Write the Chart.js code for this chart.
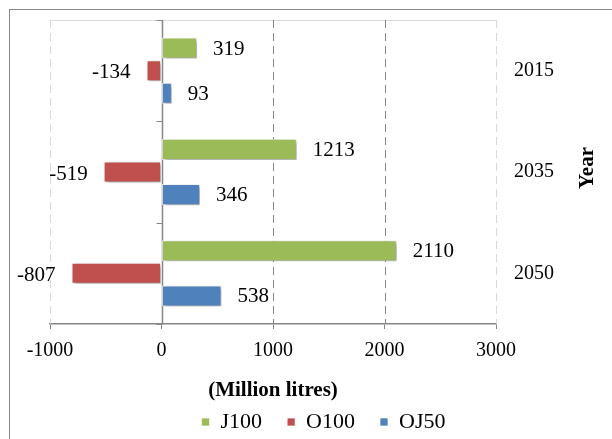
<!DOCTYPE html>
<html>
<head>
<meta charset="utf-8">
<script src="https://cdn.jsdelivr.net/npm/chart.js@4/dist/chart.umd.min.js"></script>
<style>
  html, body { margin: 0; padding: 0; background: #fff; }
  #wrap { width: 612px; height: 439px; position: relative; }
</style>
</head>
<body>
<div id="wrap"><canvas id="chart" width="612" height="439"></canvas></div>
<script>
const years = ['2015', '2035', '2050'];
const seriesNames = ['J100', 'O100', 'OJ50'];
const j100 = [319, 1213, 2110];
const o100 = [-134, -519, -807];
const oj50 = [93, 346, 538];
const xMin = -1000;
const xMax = 3000;
const xStep = 1000;

const SERIF = '"Liberation Serif", "Times New Roman", serif';
const GREEN = '#9bbb59';
const RED = '#c0504d';
const BLUE = '#4f81bd';
const AXIS_GRAY = '#868686';
const LIGHT_GRAY = '#d9d9d9';

// frame, gridlines, zero line, labels and the rotated "Year" title
const decor = {
  id: 'decor',
  beforeDraw(chart) {
    const ctx = chart.ctx;
    ctx.save();
    ctx.strokeStyle = AXIS_GRAY;
    ctx.lineWidth = 1;
    ctx.strokeRect(9.5, 9.5, chart.width + 20, chart.height + 20);
    ctx.restore();
  },
  beforeDatasetsDraw(chart) {
    const { ctx, chartArea: a, scales: { x, y } } = chart;
    ctx.save();
    ctx.lineWidth = 1;
    // top edge of the plot
    ctx.strokeStyle = LIGHT_GRAY;
    ctx.beginPath();
    ctx.moveTo(a.left, a.top + 0.5);
    ctx.lineTo(a.right, a.top + 0.5);
    ctx.stroke();

    x.ticks.forEach(t => {
      if (t.value === 0) return;
      const px = Math.round(x.getPixelForValue(t.value)) + 0.5;
      const edge = t.value === xMin || t.value === xMax;
      ctx.strokeStyle = edge ? LIGHT_GRAY : AXIS_GRAY;
      ctx.setLineDash([8, 5]);
      ctx.beginPath();
      ctx.moveTo(px, a.top);
      ctx.lineTo(px, a.bottom);
      ctx.stroke();
    });

    // category axis crossing at zero
    ctx.setLineDash([]);
    ctx.strokeStyle = AXIS_GRAY;
    ctx.lineWidth = 1.5;
    const zx = Math.round(x.getPixelForValue(0)) + 0.5;
    ctx.beginPath();
    ctx.moveTo(zx, a.top);
    ctx.lineTo(zx, a.bottom);
    ctx.stroke();
    ctx.lineWidth = 1;
    for (let i = 0; i <= years.length; i++) {
      const py = Math.round(y.getPixelForValue(i - 0.5)) + 0.5;
      ctx.beginPath();
      ctx.moveTo(zx - 6, py);
      ctx.lineTo(zx, py);
      ctx.stroke();
    }
    ctx.restore();
  },
  beforeDatasetDraw(chart) {
    const ctx = chart.ctx;
    ctx.save();
    ctx.shadowColor = 'rgba(0,0,0,0.38)';
    ctx.shadowBlur = 4;
    ctx.shadowOffsetX = 2;
    ctx.shadowOffsetY = 2;
  },
  afterDatasetDraw(chart) {
    chart.ctx.restore();
  },
  afterDatasetsDraw(chart) {
    const ctx = chart.ctx;
    ctx.save();
    ctx.font = '21px ' + SERIF;
    ctx.fillStyle = '#000';
    ctx.textBaseline = 'middle';
    chart.data.datasets.forEach((ds, di) => {
      const meta = chart.getDatasetMeta(di);
      meta.data.forEach((bar, i) => {
        const v = ds.data[i];
        if (v >= 0) {
          ctx.textAlign = 'left';
          ctx.fillText(String(v), bar.x + 16, bar.y + 1);
        } else {
          ctx.textAlign = 'right';
          ctx.fillText(String(v), bar.x - 16, bar.y + 2);
        }
      });
    });
    // axis title on the right, reading bottom to top
    ctx.translate(588, (chart.chartArea.top + chart.chartArea.bottom) / 2 - 4);
    ctx.rotate(-Math.PI / 2);
    ctx.textAlign = 'center';
    ctx.font = 'bold 21px ' + SERIF;
    ctx.fillText('Year', 0, 0);
    ctx.restore();
  }
};

new Chart(document.getElementById('chart'), {
  type: 'bar',
  data: {
    labels: years,
    datasets: [
      { label: seriesNames[0], data: j100, backgroundColor: GREEN },
      { label: seriesNames[1], data: o100, backgroundColor: RED },
      { label: seriesNames[2], data: oj50, backgroundColor: BLUE }
    ]
  },
  options: {
    indexAxis: 'y',
    responsive: false,
    animation: false,
    events: [],
    datasets: {
      bar: {
        categoryPercentage: 0.67,
        barPercentage: 0.93,
        borderColor: 'rgba(255,255,255,0.7)',
        borderWidth: 1,
        borderSkipped: false
      }
    },
    layout: { padding: { left: 50, top: 20, right: 15, bottom: 0 } },
    scales: {
      x: {
        min: xMin,
        max: xMax,
        ticks: {
          stepSize: xStep,
          color: '#000',
          padding: 10,
          font: { family: SERIF, size: 20 },
          callback: v => String(v)
        },
        grid: {
          display: true,
          drawOnChartArea: false,
          drawTicks: true,
          tickLength: 5,
          tickColor: AXIS_GRAY
        },
        border: { display: true, color: AXIS_GRAY, width: 1.5 },
        title: {
          display: true,
          text: '(Million litres)',
          color: '#000',
          padding: { top: 0, bottom: -17 },
          font: { family: SERIF, size: 21, weight: 'bold' }
        },
        afterFit(scale) { scale.height = 62; }
      },
      y: {
        position: 'right',
        ticks: {
          color: '#000',
          padding: 18,
          font: { family: SERIF, size: 20 }
        },
        grid: { display: false, drawTicks: false },
        border: { display: false },
        afterFit(scale) {
          scale.width = 101;
          scale.paddingTop = 0;
          scale.paddingBottom = 0;
        }
      }
    },
    plugins: {
      legend: {
        position: 'bottom',
        maxHeight: 53,
        labels: {
          boxWidth: 8,
          boxHeight: 8,
          padding: 25,
          color: '#000',
          font: { family: SERIF, size: 22 }
        }
      },
      tooltip: { enabled: false }
    }
  },
  plugins: [decor]
});
</script>
</body>
</html>
